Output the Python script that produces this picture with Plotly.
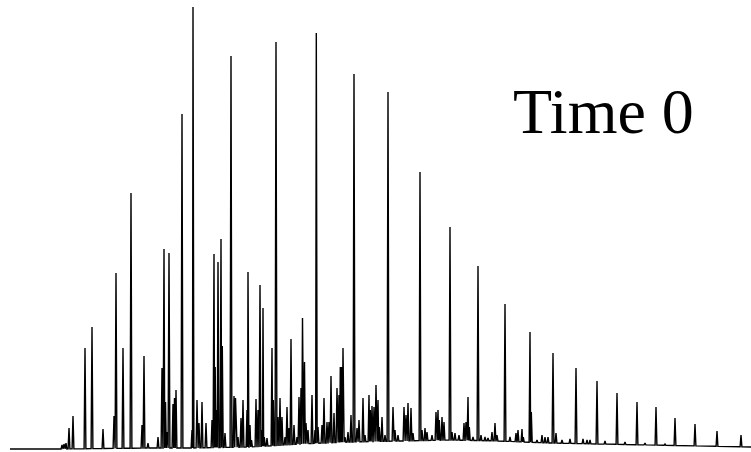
import numpy as np
import plotly.graph_objects as go

# Peak apex positions (retention, scan units) and apex abundances (arbitrary units)
peak_rt = [62, 64, 66, 69, 73, 85, 92, 103, 114, 116, 123, 131, 142, 144, 148, 158, 162, 164, 165.5, 167, 169,
           173, 174.5, 176, 182, 192, 193, 197, 199, 202, 206, 212, 214, 215.2, 216.5, 218, 221, 222.3, 225, 231,
           234, 235.5, 238, 241, 243, 247, 248, 250, 251.5, 256, 258, 260, 262, 263, 264.3, 267, 272, 273.3, 276,
           278, 280, 282, 285, 287, 289, 291, 294, 297, 299, 301, 302.5, 304.5, 306, 308, 312, 315, 316.3, 318,
           322, 324, 327, 329, 331, 334, 337, 339, 340.3, 341.5, 343, 345, 348, 351, 354, 357, 359, 363, 365, 369,
           370.3, 372, 374, 376, 378, 379.3, 382, 385, 388, 393, 395, 398, 404, 406, 408, 411, 413, 420, 422, 425,
           427, 432, 436, 438, 439.3, 442, 444, 450, 452, 455, 459, 464, 466, 468, 469.3, 473, 478, 481, 485, 488,
           492, 495, 497, 505, 510, 516, 518, 522, 523.3, 530, 531.3, 537, 542, 545, 548, 553, 556, 562, 570, 576,
           583, 587, 590, 597, 605, 617, 625, 637, 645, 656, 665, 675, 695, 717, 741]
peak_abund = [7, 8, 9, 24, 36, 104, 125, 23, 36, 179, 104, 259, 27, 96, 9, 15, 84, 203, 50, 20, 199,
              48, 54, 62, 338, 22, 445, 52, 29, 50, 29, 32, 198, 85, 42, 190, 213, 106, 19, 396,
              56, 54, 15, 34, 52, 42, 180, 27, 12, 53, 42, 167, 22, 144, 15, 14, 104, 52, 410,
              35, 54, 35, 15, 45, 24, 113, 27, 15, 55, 64, 134, 90, 29, 22, 57, 22, 419, 25,
              27, 54, 30, 30, 76, 39, 64, 57, 85, 85, 104, 15, 20, 37, 378, 24, 32, 54, 17, 57,
              42, 46, 45, 67, 52, 25, 35, 17, 360, 45, 22, 17, 45, 37, 49, 44, 19, 280, 22, 24,
              20, 17, 40, 42, 32, 35, 30, 225, 20, 19, 17, 29, 30, 55, 25, 15, 186, 17, 15, 14,
              20, 29, 17, 148, 15, 19, 22, 23, 15, 120, 40, 12, 17, 15, 15, 99, 19, 12, 13, 84,
              13, 12, 12, 71, 11, 59, 10, 50, 9, 45, 8, 34, 28, 21, 17]

# Baseline (unresolved hump) read at several retention positions
base_rt = [10, 60, 150, 190, 250, 300, 350, 400, 450, 500, 550, 600, 650, 700, 751]
base_abund = [3, 3, 4, 4, 5, 8, 10, 11, 12, 11, 9, 8, 7, 6, 5]

label_text = "Time 0"

# Build chromatogram trace: baseline -> apex -> baseline for each peak
order = np.argsort(peak_rt)
rt = np.array(peak_rt, dtype=float)[order]
ab = np.array(peak_abund, dtype=float)[order]
xs = [base_rt[0]]
ys = [base_abund[0]]
half = 0.9
for i in range(len(rt)):
    left = rt[i] - half if i == 0 else max(rt[i] - half, (rt[i - 1] + rt[i]) / 2)
    if i == 0 or left > xs[-1]:
        xs.append(left)
        ys.append(float(np.interp(left, base_rt, base_abund)))
    xs.append(rt[i])
    ys.append(ab[i])
    right = rt[i] + half if i == len(rt) - 1 else min(rt[i] + half, (rt[i] + rt[i + 1]) / 2)
    xs.append(right)
    ys.append(float(np.interp(right, base_rt, base_abund)))
xs.append(base_rt[-1])
ys.append(base_abund[-1])

fig = go.Figure()
fig.add_trace(go.Scatter(x=xs, y=ys, mode="lines",
                         line=dict(color="black", width=1.4), hoverinfo="skip"))

fig.add_annotation(text=label_text, x=511 / 751, y=(452 - 111) / 452, xref="paper", yref="paper",
                   xanchor="left", yanchor="middle", showarrow=False,
                   font=dict(family="Liberation Serif, Times New Roman, serif", size=64, color="black"))

fig.update_layout(width=751, height=452, margin=dict(l=0, r=0, t=0, b=0),
                  paper_bgcolor="white", plot_bgcolor="white", showlegend=False,
                  xaxis=dict(range=[0, 751], visible=False, fixedrange=True),
                  yaxis=dict(range=[0, 452], visible=False, fixedrange=True))

fig.write_html("out.html", config={"displayModeBar": False, "staticPlot": True},
               post_script="document.body.style.margin='0';document.body.style.overflow='hidden';")
